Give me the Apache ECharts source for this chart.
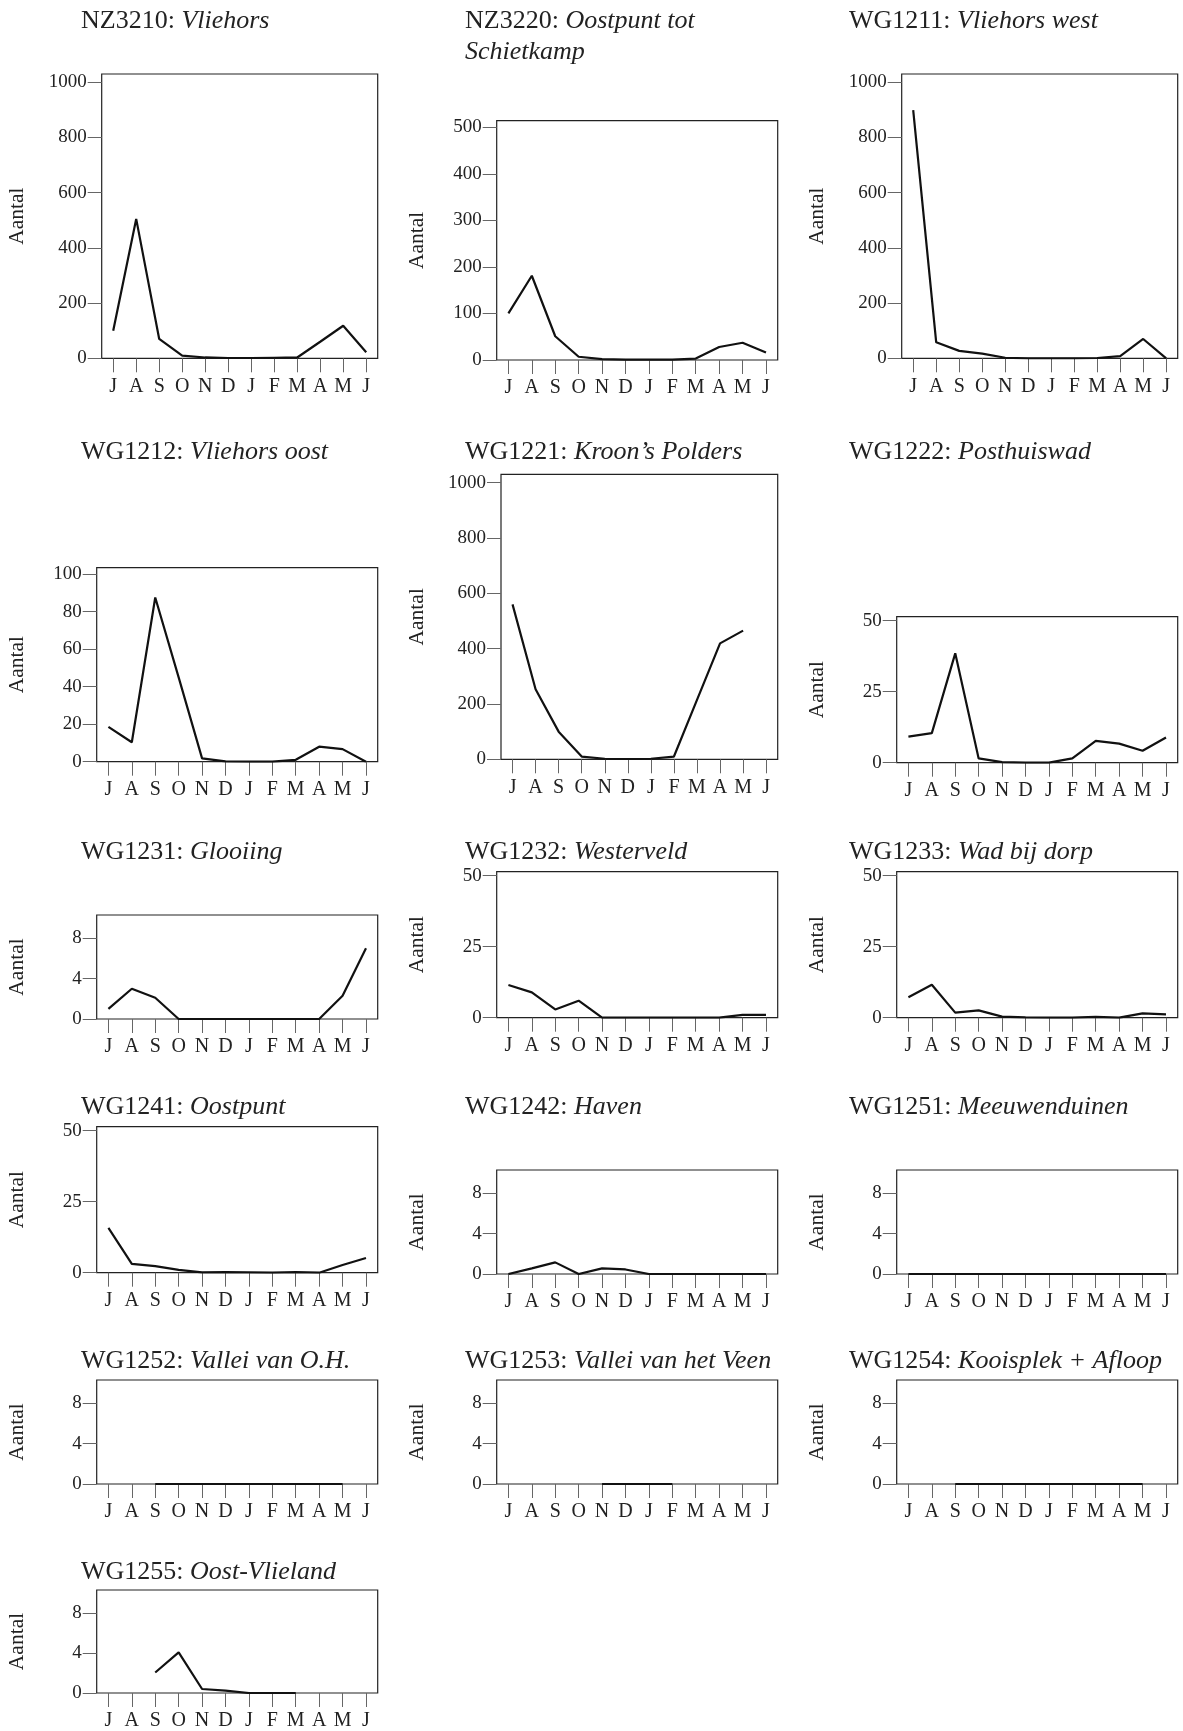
<!DOCTYPE html>
<html>
<head>
<meta charset="utf-8">
<script src="https://cdn.jsdelivr.net/npm/echarts@6/dist/echarts.min.js"></script>
<style>
html,body{margin:0;padding:0;background:#fff;}
#chart{width:1183px;height:1731px;}
</style>
</head>
<body>
<div id="chart"></div>
<script>
// ---- data ----
const months = ['J','A','S','O','N','D','J','F','M','A','M','J'];
const ticks1000 = [0,200,400,600,800,1000];
const ticks500 = [0,100,200,300,400,500];
const ticks100 = [0,20,40,60,80,100];
const ticks50 = [0,25,50];
const ticks8 = [0,4,8];

const codes = ['NZ3210','NZ3220','WG1211','WG1212','WG1221','WG1222','WG1231','WG1232','WG1233','WG1241','WG1242','WG1251','WG1252','WG1253','WG1254','WG1255'];
const names = ['Vliehors','Oostpunt tot\nSchietkamp','Vliehors west','Vliehors oost','Kroon\u2019s Polders','Posthuiswad','Glooiing','Westerveld','Wad bij dorp','Oostpunt','Haven','Meeuwenduinen','Vallei van O.H.','Vallei van het Veen','Kooisplek + Afloop','Oost-Vlieland'];

const nz3210 = [100,505,70,10,3,1,1,2,3,60,118,22];
const nz3220 = [100,181,51,7,2,1,1,1,3,28,37,16];
const wg1211 = [899,58,27,17,2,0,0,0,1,8,70,0];
const wg1212 = [18.6,10.4,87.6,45,1.8,0.2,0,0,1,8,6.7,0];
const wg1221 = [560,253,100,10,2,1,2,10,215,419,465,null];
const wg1222 = [9.2,10.4,38.5,1.5,0.2,0,0,1.5,7.7,6.7,4.2,8.9];
const wg1231 = [1,3,2.1,0,0,0,0,0,0,0,2.3,7];
const wg1232 = [11.5,8.9,2.9,6,0,0,0,0,0,0,1,1];
const wg1233 = [7.2,11.6,1.8,2.6,0.4,0.1,0,0,0.3,0,1.5,1.2];
const wg1241 = [15.8,3.1,2.3,1,0.1,0.2,0.1,0,0.2,0,2.7,5.2];
const wg1242 = [0,0.56,1.15,0,0.56,0.45,0,0,0,0,0,0];
const wg1251 = [0,0,0,0,0,0,0,0,0,0,0,0];
const wg1252 = [null,null,0,0,0,0,0,0,0,0,0,null];
const wg1253 = [null,null,null,null,0,0,0,0,null,null,null,null];
const wg1254 = [null,null,0,0,0,0,0,0,0,0,0,null];
const wg1255 = [null,null,2.05,4.07,0.4,0.23,0,0,0,null,null,null];

const seriesData = [nz3210,nz3220,wg1211,wg1212,wg1221,wg1222,wg1231,wg1232,wg1233,wg1241,wg1242,wg1251,wg1252,wg1253,wg1254,wg1255];
const tickSets = [ticks1000,ticks500,ticks1000,ticks100,ticks1000,ticks50,ticks8,ticks50,ticks50,ticks50,ticks8,ticks8,ticks8,ticks8,ticks8,ticks8];

// ---- layout (positions only) ----
const axisMax = {1000:1030, 500:514, 100:103.5, 50:51.4, 8:10.3};
const colRight = [377.7, 777.7, 1177.7];
const colTitleX = [81, 465, 849];
const colNameX = [18, 418, 818];
const boxes = [
  {c:0,l:101.7,t:74,b:358.3,ty:21},
  {c:1,l:496.7,t:120.7,b:360,ty:21},
  {c:2,l:901.7,t:74,b:358.3,ty:21},
  {c:0,l:96.7,t:567.7,b:761.7,ty:452},
  {c:1,l:501,t:474.3,b:759.3,ty:452},
  {c:2,l:896.7,t:616.7,b:762.7,ty:452},
  {c:0,l:96.7,t:915,b:1019,ty:851.7},
  {c:1,l:496.7,t:871.7,b:1017.7,ty:851.7},
  {c:2,l:896.7,t:871.7,b:1017.7,ty:851.7},
  {c:0,l:96.7,t:1126.7,b:1272.7,ty:1107},
  {c:1,l:496.7,t:1170,b:1274,ty:1107},
  {c:2,l:896.7,t:1170,b:1274,ty:1107},
  {c:0,l:96.7,t:1380,b:1484,ty:1360.6},
  {c:1,l:496.7,t:1380,b:1484,ty:1360.6},
  {c:2,l:896.7,t:1380,b:1484,ty:1360.6},
  {c:0,l:96.7,t:1590,b:1694,ty:1571.7}
];

const FONT = "'Liberation Serif','DejaVu Serif',serif";
const TXT = '#222';
const TICK = '#666';
const NAME_FS = 21.5;

const grid = [], xAxis = [], yAxis = [], series = [], title = [];
boxes.forEach((bx, i) => {
  const ticks = tickSets[i];
  const top = ticks[ticks.length - 1];
  grid.push({left: bx.l, top: bx.t, width: colRight[bx.c] - bx.l, height: bx.b - bx.t,
    show: true, borderColor: '#222', borderWidth: 1.2, backgroundColor: 'transparent'});
  xAxis.push({gridIndex: i, type: 'category', data: months, boundaryGap: true,
    axisLine: {show: false},
    axisTick: {show: true, alignWithLabel: true, interval: 0, length: 14, lineStyle: {color: TICK, width: 1}},
    axisLabel: {interval: 0, margin: 18, fontSize: 20, color: TXT, fontFamily: FONT},
    splitLine: {show: false}});
  yAxis.push({gridIndex: i, type: 'value', min: 0, max: axisMax[top],
    axisLine: {show: false},
    axisTick: {show: true, length: 14, customValues: ticks, lineStyle: {color: TICK, width: 1}},
    axisLabel: {customValues: ticks, margin: 15, fontSize: 19, color: TXT, fontFamily: FONT,
      padding: [4, 0, 0, 0], formatter: v => String(v)},
    splitLine: {show: false},
    name: 'Aantal', nameLocation: 'middle', nameRotate: 90,
    nameGap: bx.l - colNameX[bx.c] - NAME_FS / 2,
    nameTextStyle: {fontSize: NAME_FS, color: TXT, fontFamily: FONT}});
  series.push({type: 'line', xAxisIndex: i, yAxisIndex: i, data: seriesData[i],
    symbol: 'none', connectNulls: false, silent: true,
    lineStyle: {color: '#111', width: 2.2}});
  const nm = names[i].split('\n').map(s => '{b|' + s + '}').join('\n');
  title.push({left: colTitleX[bx.c], top: bx.ty - 15, padding: 0,
    text: '{a|' + codes[i] + ': }' + nm,
    textStyle: {fontWeight: 'normal', rich: {
      a: {fontFamily: FONT, fontSize: 26, fontWeight: 'normal', color: TXT, lineHeight: 31},
      b: {fontFamily: FONT, fontSize: 26, fontWeight: 'normal', fontStyle: 'italic', color: TXT, lineHeight: 31}
    }}});
});

const chart = echarts.init(document.getElementById('chart'), null, {renderer: 'canvas'});
chart.setOption({animation: false, backgroundColor: '#fff', title, grid, xAxis, yAxis, series});
</script>
</body>
</html>
